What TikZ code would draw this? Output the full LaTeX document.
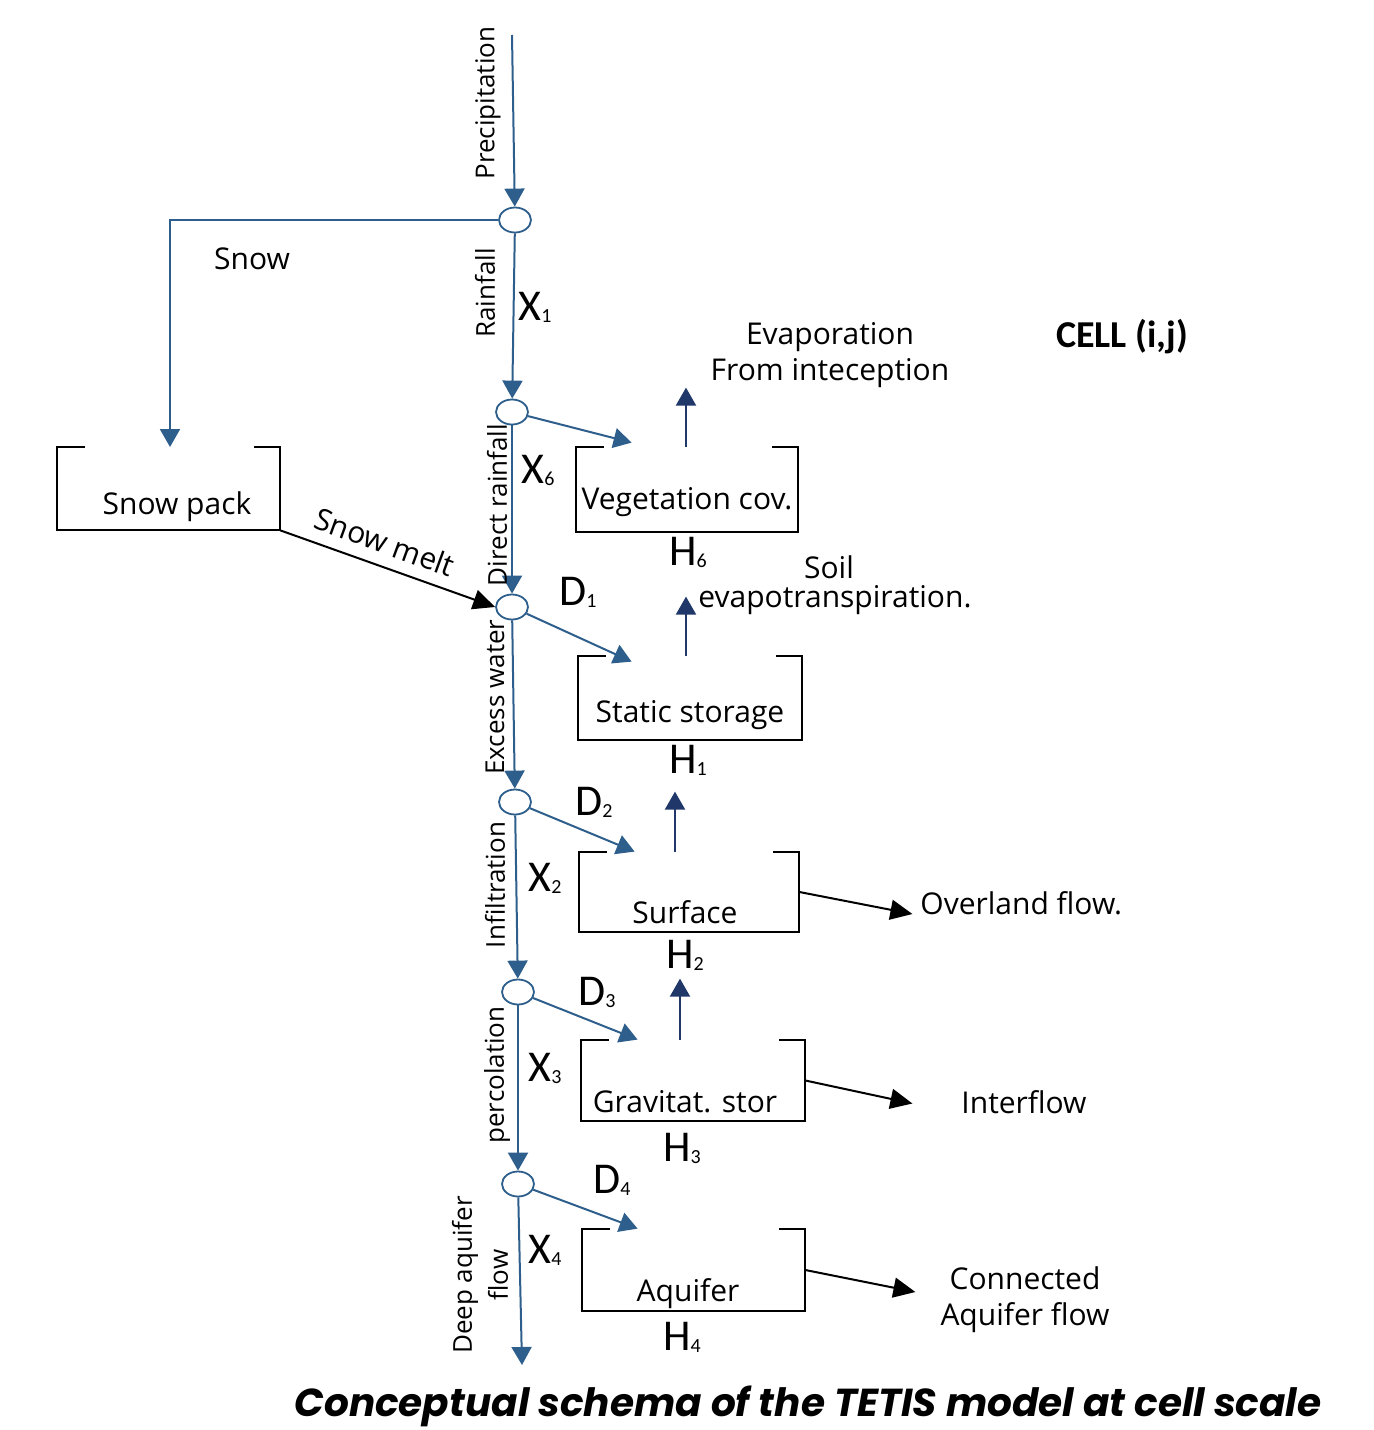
\documentclass[tikz,border=0pt]{standalone}
\usepackage{fontspec}
\setmainfont{Open Sans}
\newfontfamily\idxfont{Carlito}
\newfontfamily\capfont{Poppins}
\usetikzlibrary{arrows.meta,shapes.geometric,calc}

\definecolor{flowblue}{RGB}{46,95,140}
\definecolor{upblue}{RGB}{31,56,105}

% state labels like X1, D1, H1
\newcommand{\stv}[2]{{\idxfont\fontsize{22}{22}\selectfont #1\raisebox{-1pt}{\fontsize{10}{10}\selectfont #2}}}

\begin{document}
\begin{tikzpicture}[x=0.5pt,y=-0.5pt,
    junction/.style={ellipse,draw=flowblue,line width=0.9pt,fill=white,minimum width=16pt,minimum height=12.5pt,inner sep=0pt},
    tank/.style={rectangle,inner sep=0pt},
    tankline/.style={black,line width=1pt},
    flow/.style={flowblue,line width=1pt,-{Triangle[width=10pt,length=9pt]}},
    upflow/.style={upblue,line width=1pt,-{Triangle[width=10pt,length=9pt]}},
    outflow/.style={black,line width=1pt,-{Triangle[width=10pt,length=11pt]}},
    txt/.style={font=\fontsize{15}{18}\selectfont,align=center,inner sep=0pt},
    vtxt/.style={font=\fontsize{13}{16}\selectfont,rotate=90,align=center,inner sep=0pt}]

    \useasboundingbox (0,0) rectangle (1373,1430);

    % main column of junctions
    \coordinate (top) at (512,35);
    \node[junction] (n1) at (515,220) {};
    \node[junction] (n2) at (512,412) {};
    \node[junction] (n3) at (512,607) {};
    \node[junction] (n4) at (515,802) {};
    \node[junction] (n5) at (518,992) {};
    \node[junction] (n6) at (518,1184) {};
    \coordinate (bottom) at (522,1365);

    % tanks
    \node[tank,minimum width=111.5pt,minimum height=41.5pt] (pack) at (168.5,488.5) {};
    \node[tank,minimum width=111pt,minimum height=42.5pt] (veg) at (687,489.5) {};
    \node[tank,minimum width=112pt,minimum height=42pt] (stat) at (690,698) {};
    \node[tank,minimum width=110pt,minimum height=40pt] (surf) at (689,892) {};
    \node[tank,minimum width=112pt,minimum height=40.5pt] (grav) at (693,1080.5) {};
    \node[tank,minimum width=111.5pt,minimum height=41pt] (aqu) at (693.5,1270) {};

    \foreach \b in {pack,veg,stat,surf,grav,aqu}
        \draw[tankline] ([xshift=14pt]\b.north west) -- (\b.north west) -- (\b.south west)
            -- (\b.south east) -- (\b.north east) -- ([xshift=-13pt]\b.north east);

    % tank texts
    \node[txt] (packtxt) at (177,507) {Snow pack};
    \node[txt] (vegtxt) at (687,502) {Vegetation cov.};
    \node[txt] (stattxt) at (690,715) {Static storage};
    \node[txt] (surftxt) at (685,912) {Surface};
    \node[txt] (gravtxt) at (685,1102) {Gravitat. stor};
    \node[txt] (aqutxt) at (688,1294) {Aquifer};

    % vertical flow
    \draw[flow] (top) -- (n1);
    \draw[flow] (n1) -- (n2);
    \draw[flow] (n2) -- (n3);
    \draw[flow] (n3) -- (n4);
    \draw[flow] (n4) -- (n5);
    \draw[flow] (n5) -- (n6);
    \draw[flow] (n6) -- (bottom);

    % snow branch
    \coordinate (snowc) at (170,220);
    \draw[flow] (n1.west) -- (snowc) -- (170,447);
    \draw[outflow] (pack.south east) -- (n3.west);

    % into tanks
    \draw[flow] (n2) -- ([xshift=28pt,yshift=2pt]veg.north west);
    \draw[flow] (n3) -- ([xshift=27pt,yshift=-3pt]stat.north west);
    \draw[flow] (n4) -- ([xshift=28pt]surf.north west);
    \draw[flow] (n5) -- ([xshift=28.5pt]grav.north west);
    \draw[flow] (n6) -- ([xshift=28pt]aqu.north west);

    % upward losses
    \draw[upflow] ([xshift=-0.5pt]veg.north) -- ++(0,-59);
    \draw[upflow] ([xshift=-2pt]stat.north) -- ++(0,-59);
    \draw[upflow] ([xshift=-7pt]surf.north) -- ++(0,-60);
    \draw[upflow] ([xshift=-6.5pt]grav.north) -- ++(0,-61);

    % lateral outflows
    \draw[outflow] (surf.east) -- ++(113,22);
    \draw[outflow] (grav.east) -- ++(107,23);
    \draw[outflow] (aqu.east) -- ++(110,22);

    % flow labels
    \node[vtxt] (lprec) at (488,103) {Precipitation};
    \node[vtxt] (lrain) at (485,293) {Rainfall};
    \node[vtxt] (ldir) at (497,505) {Direct rainfall};
    \node[vtxt] (lexc) at (495,697) {Excess water};
    \node[vtxt] (linf) at (495,885) {Infiltration};
    \node[vtxt] (lper) at (497,1075) {percolation};
    \node[vtxt,font=\fontsize{13}{18}\selectfont] (ldeep) at (480,1275) {Deep aquifer\\flow};
    \node[txt] (lsnow) at (252,259) {Snow};
    \node[txt,rotate=-20] (lmelt) at (385,542) {Snow melt};

    \node[txt] (levap) at (830,355) {Evaporation\\From inteception};
    \node[txt] (lsoil) at (829,567) {Soil};
    \node[txt,anchor=west] (let) at (698,600) {evapotranspiration.};
    \node[txt,anchor=west] (lover) at (920,903) {Overland flow.};
    \node[txt] (linter) at (1024,1102) {Interflow};
    \node[txt] (lconn) at (1025,1300) {Connected\\Aquifer flow};
    \node[font=\idxfont\bfseries\fontsize{19}{22}\selectfont,inner sep=0pt] (cell) at (1122,337) {CELL (i,j)};

    % state variables
    \node (x1) at (535,307) {\stv{X}{1}};
    \node (x6) at (538,470) {\stv{X}{6}};
    \node (x2) at (545,878) {\stv{X}{2}};
    \node (x3) at (545,1068) {\stv{X}{3}};
    \node (x4) at (545,1250) {\stv{X}{4}};
    \node (d1) at (578,592) {\stv{D}{1}};
    \node (d2) at (594,802) {\stv{D}{2}};
    \node (d3) at (597,992) {\stv{D}{3}};
    \node (d4) at (612,1180) {\stv{D}{4}};
    \node (h6) at (688,552) {\stv{H}{6}};
    \node (h1) at (688,760) {\stv{H}{1}};
    \node (h2) at (685,955) {\stv{H}{2}};
    \node (h3) at (682,1148) {\stv{H}{3}};
    \node (h4) at (682,1337) {\stv{H}{4}};

    % caption
    \node[font=\capfont\bfseries\itshape\fontsize{19.5}{22}\selectfont,inner sep=0pt] (caption) at (808,1406)
        {Conceptual schema of the TETIS model at cell scale};

\end{tikzpicture}
\end{document}
